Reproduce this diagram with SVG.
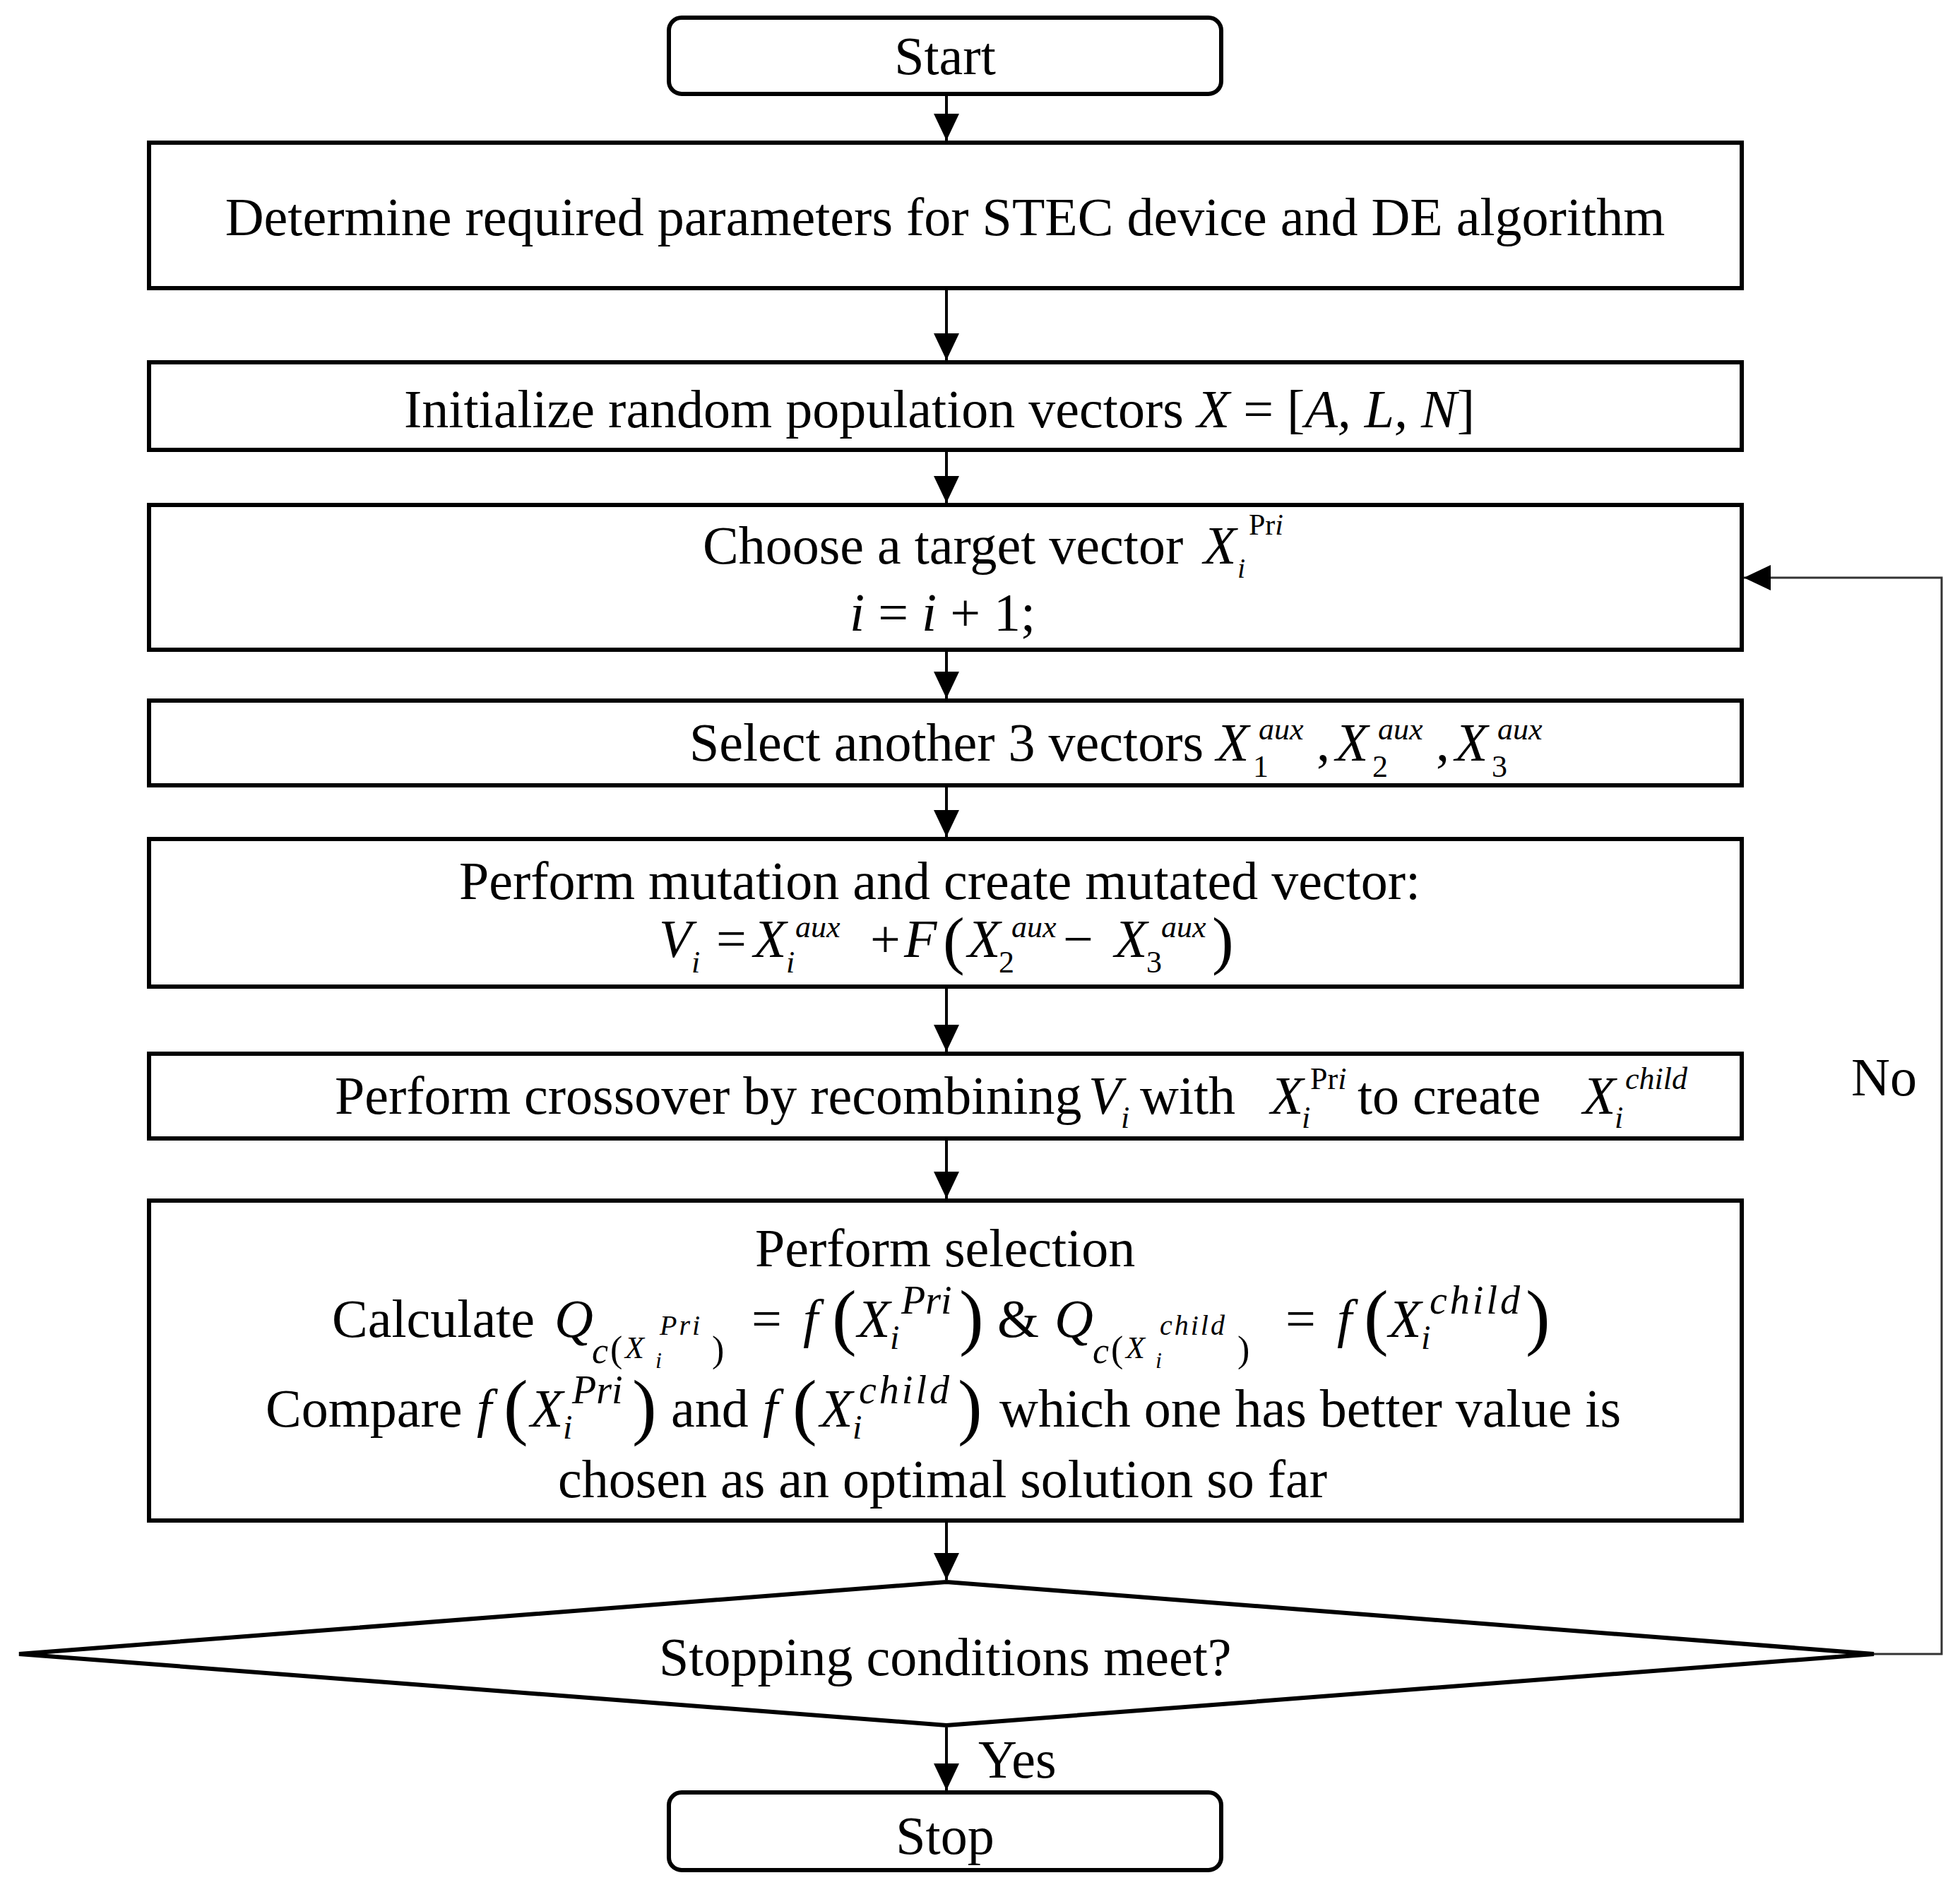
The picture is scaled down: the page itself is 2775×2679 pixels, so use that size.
<svg xmlns="http://www.w3.org/2000/svg" width="2775" height="2679" viewBox="0 0 2775 2679">
<style>
.t{font-family:"Liberation Serif","Times New Roman",serif;font-size:76px;fill:#000}
.i{font-style:italic}
.s{font-size:44px}
.box{fill:#fff;stroke:#000;stroke-width:6}
.conn{stroke:#000;stroke-width:4;fill:none}
.fb{stroke:#333;stroke-width:3;fill:none}
.bp{font-size:104px}
.sp{font-size:52px}
.ms{font-size:56px}
.mi{font-size:48px}
</style>
<defs>
<marker id="arr" markerUnits="userSpaceOnUse" markerWidth="40" markerHeight="38" refX="38" refY="18" orient="auto">
<path d="M0,0 L38,18 L0,36 Z" fill="#000"/>
</marker>
</defs>
<rect width="2775" height="2679" fill="#fff"/>

<g id="connectors">
<line class="conn" x1="1340" y1="136" x2="1340" y2="199" marker-end="url(#arr)"/>
<line class="conn" x1="1340" y1="411" x2="1340" y2="510" marker-end="url(#arr)"/>
<line class="conn" x1="1340" y1="640" x2="1340" y2="712" marker-end="url(#arr)"/>
<line class="conn" x1="1340" y1="923" x2="1340" y2="989" marker-end="url(#arr)"/>
<line class="conn" x1="1340" y1="1115" x2="1340" y2="1185" marker-end="url(#arr)"/>
<line class="conn" x1="1340" y1="1400" x2="1340" y2="1489" marker-end="url(#arr)"/>
<line class="conn" x1="1340" y1="1615" x2="1340" y2="1697" marker-end="url(#arr)"/>
<line class="conn" x1="1340" y1="2156" x2="1340" y2="2237" marker-end="url(#arr)"/>
<line class="conn" x1="1340" y1="2446" x2="1340" y2="2535" marker-end="url(#arr)"/>
<polyline class="fb" points="2653,2342 2749,2342 2749,818 2469,818" marker-end="url(#arr)"/>
<text class="t" x="1385" y="2517">Yes</text>
<text class="t" x="2621" y="1551">No</text>
</g>

<g id="start">
<rect class="box" x="947" y="25" width="782" height="108" rx="18"/>
<text class="t" x="1338" y="105" text-anchor="middle">Start</text>
</g>

<g id="determine">
<rect class="box" x="211" y="202" width="2255" height="206"/>
<text class="t" x="1338" y="333" text-anchor="middle">Determine required parameters for STEC device and DE algorithm</text>
</g>

<g id="initialize">
<rect class="box" x="211" y="513" width="2255" height="124"/>
<text class="t" x="572" y="605">Initialize random population vectors <tspan class="i">X</tspan> = [<tspan class="i">A, L, N</tspan>]</text>
</g>

<g id="choose">
<rect class="box" x="211" y="715" width="2255" height="205"/>
<text class="t" x="995" y="798">Choose a target vector</text>
<text class="t i" x="1704" y="798">X</text>
<text class="t i" x="1752" y="818" style="font-size:40px">i</text>
<text class="t" x="1768" y="757" style="font-size:42px">Pr<tspan class="i">i</tspan></text>
<text class="t" x="1203" y="893"><tspan class="i">i</tspan> = <tspan class="i">i</tspan> + 1;</text>
</g>

<g id="select">
<rect class="box" x="211" y="992" width="2255" height="120"/>
<text class="t" x="976" y="1077">Select another 3 vectors</text>
<text class="t i" x="1722" y="1077">X</text>
<text class="t s" x="1774" y="1100">1</text>
<text class="t s i" x="1782" y="1047">aux</text>
<text class="t" x="1864" y="1077">,</text>
<text class="t i" x="1891" y="1077">X</text>
<text class="t s" x="1943" y="1100">2</text>
<text class="t s i" x="1951" y="1047">aux</text>
<text class="t" x="2033" y="1077">,</text>
<text class="t i" x="2060" y="1077">X</text>
<text class="t s" x="2112" y="1100">3</text>
<text class="t s i" x="2120" y="1047">aux</text>
</g>

<g id="mutation">
<rect class="box" x="211" y="1188" width="2255" height="209"/>
<text class="t" x="650" y="1273">Perform mutation and create mutated vector:</text>
<text class="t i" x="933" y="1355">V</text>
<text class="t s i" x="979" y="1377">i</text>
<text class="t" x="1014" y="1355">=</text>
<text class="t i" x="1067" y="1355">X</text>
<text class="t s i" x="1113" y="1377">i</text>
<text class="t s i" x="1126" y="1327">aux</text>
<text class="t" x="1232" y="1355">+</text>
<text class="t i" x="1280" y="1355">F</text>
<text class="t" x="1335" y="1362" style="font-size:92px">(</text>
<text class="t i" x="1370" y="1355">X</text>
<text class="t s" x="1414" y="1377">2</text>
<text class="t s i" x="1432" y="1327">aux</text>
<text class="t" x="1505" y="1355">−</text>
<text class="t i" x="1578" y="1355">X</text>
<text class="t s" x="1623" y="1377">3</text>
<text class="t s i" x="1644" y="1327">aux</text>
<text class="t" x="1716" y="1362" style="font-size:92px">)</text>
</g>

<g id="crossover">
<rect class="box" x="211" y="1492" width="2255" height="120"/>
<text class="t" x="474" y="1577">Perform crossover by recombining</text>
<text class="t i" x="1541" y="1577">V</text>
<text class="t s i" x="1587" y="1597">i</text>
<text class="t" x="1614" y="1577">with</text>
<text class="t i" x="1799" y="1577">X</text>
<text class="t s i" x="1843" y="1597">i</text>
<text class="t s" x="1855" y="1542">Pr<tspan class="i">i</tspan></text>
<text class="t" x="1922" y="1577">to create</text>
<text class="t i" x="2241" y="1577">X</text>
<text class="t s i" x="2286" y="1597">i</text>
<text class="t s i" x="2301" y="1542">child</text>
</g>

<g id="selection">
<rect class="box" x="211" y="1700" width="2255" height="453"/>
<text class="t" x="1069" y="1793">Perform selection</text>
<text class="t" x="470" y="1893">Calculate</text>
<text class="t i" x="785" y="1893">Q</text>
<text class="t i sp" x="838" y="1930">c</text>
<text class="t sp" x="864" y="1928">(</text>
<text class="t i" x="885" y="1923" style="font-size:44px">X</text>
<text class="t i" x="928" y="1937" style="font-size:32px">i</text>
<text class="t i" x="934" y="1890" style="font-size:40px;letter-spacing:3px">Pri</text>
<text class="t sp" x="1008" y="1928">)</text>
<text class="t" x="1064" y="1893">=</text>
<text class="t i" x="1137" y="1893">f</text>
<text class="t bp" x="1178" y="1899">(</text>
<text class="t i" x="1214" y="1893">X</text>
<text class="t i mi" x="1260" y="1910">i</text>
<text class="t i ms" x="1276" y="1860">Pri</text>
<text class="t bp" x="1358" y="1899">)</text>
<text class="t" x="1412" y="1893">&amp;</text>
<text class="t i" x="1493" y="1893">Q</text>
<text class="t i sp" x="1547" y="1930">c</text>
<text class="t sp" x="1573" y="1928">(</text>
<text class="t i" x="1594" y="1923" style="font-size:44px">X</text>
<text class="t i" x="1636" y="1937" style="font-size:32px">i</text>
<text class="t i" x="1642" y="1890" style="font-size:40px;letter-spacing:3px">child</text>
<text class="t sp" x="1752" y="1928">)</text>
<text class="t" x="1820" y="1893">=</text>
<text class="t i" x="1893" y="1893">f</text>
<text class="t bp" x="1931" y="1899">(</text>
<text class="t i" x="1966" y="1893">X</text>
<text class="t i mi" x="2012" y="1910">i</text>
<text class="t i ms" x="2024" y="1860" style="letter-spacing:4px">child</text>
<text class="t bp" x="2160" y="1899">)</text>

<text class="t" x="376" y="2020">Compare</text>
<text class="t i" x="675" y="2020">f</text>
<text class="t bp" x="713" y="2026">(</text>
<text class="t i" x="751" y="2020">X</text>
<text class="t i mi" x="797" y="2037">i</text>
<text class="t i ms" x="810" y="1987">Pri</text>
<text class="t bp" x="895" y="2026">)</text>
<text class="t" x="950" y="2020">and</text>
<text class="t i" x="1080" y="2020">f</text>
<text class="t bp" x="1122" y="2026">(</text>
<text class="t i" x="1161" y="2020">X</text>
<text class="t i mi" x="1207" y="2037">i</text>
<text class="t i ms" x="1216" y="1987" style="letter-spacing:4px">child</text>
<text class="t bp" x="1356" y="2026">)</text>
<text class="t" x="1415" y="2020">which one has better value is</text>
<text class="t" x="790" y="2120">chosen as an optimal solution so far</text>
</g>

<g id="decision">
<polygon points="27,2342 1340,2240 2653,2342 1340,2443" fill="#fff" stroke="#000" stroke-width="6" stroke-linejoin="miter"/>
<text class="t" x="933" y="2372">Stopping conditions meet?</text>
</g>

<g id="stop">
<rect class="box" x="947" y="2538" width="782" height="110" rx="18"/>
<text class="t" x="1338" y="2625" text-anchor="middle">Stop</text>
</g>
</svg>
